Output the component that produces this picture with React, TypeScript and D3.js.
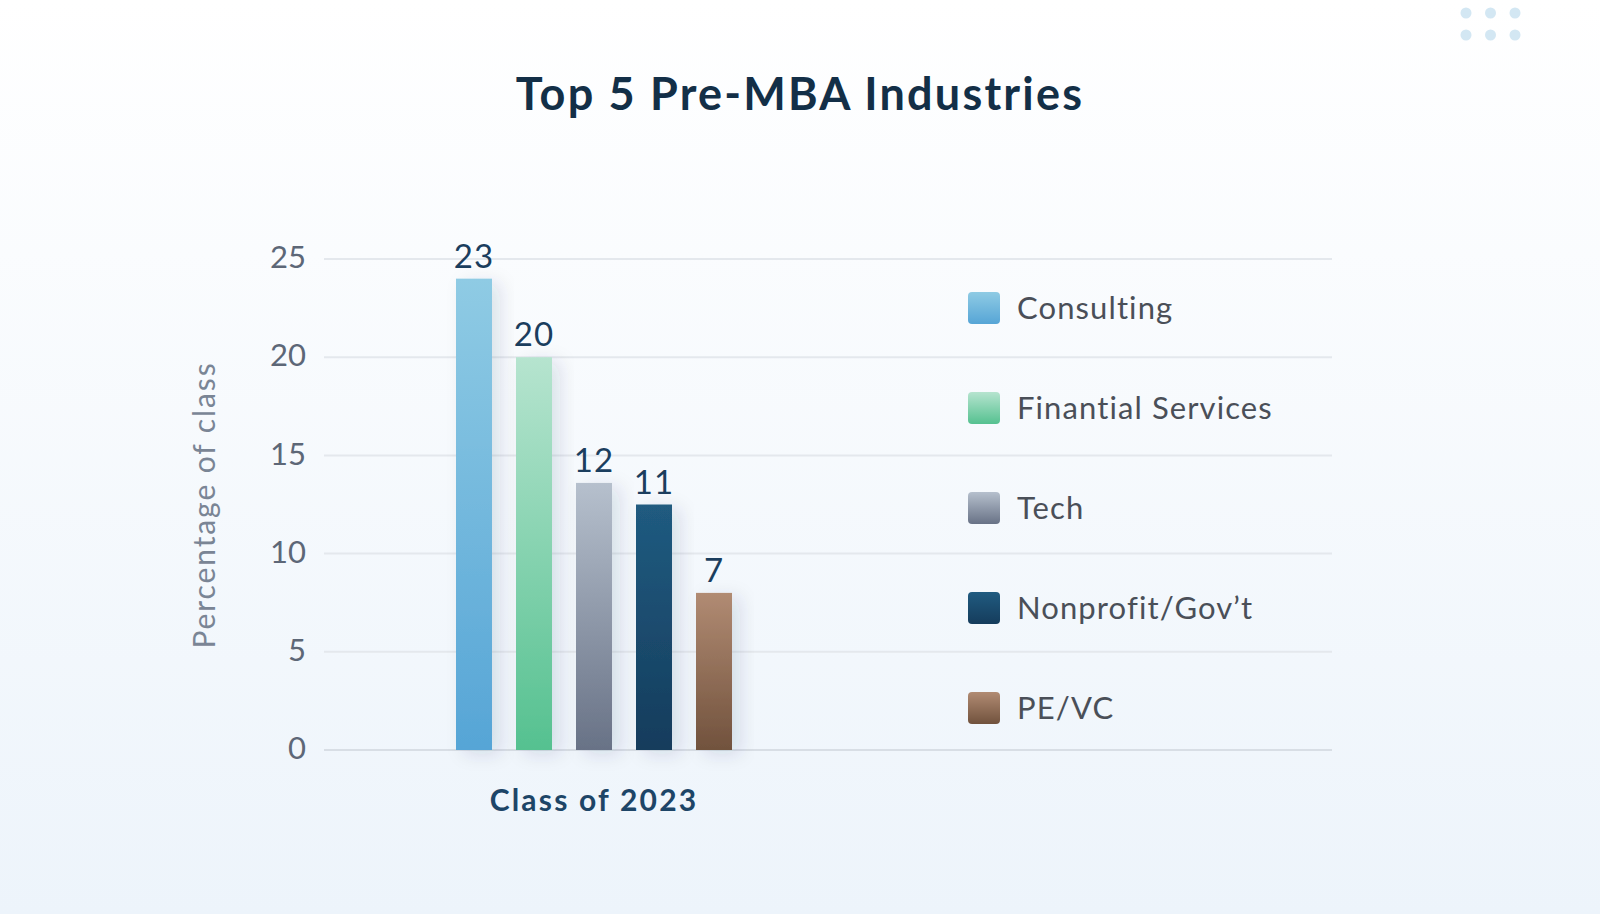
import * as d3 from "d3";

const industries = ["Consulting", "Finantial Services", "Tech", "Nonprofit/Gov’t", "PE/VC"];
const barValues = [24, 20, 13.6, 12.5, 8];
const valueLabels = ["23", "20", "12", "11", "7"];
const groups = ["Class of 2023"];
const yTicks = [0, 5, 10, 15, 20, 25];

// top / bottom gradient stops per industry
const gradTop = ["#8fcbe4", "#b6e4cf", "#b6c0cd", "#205b80", "#b18b73"];
const gradBottom = ["#56a5d6", "#55c190", "#687286", "#153c5c", "#71523d"];

const width = 1600;
const height = 914;
const font = "Lato, 'Open Sans', sans-serif";

export default function App() {
  const plotLeft = 324;
  const plotRight = 1332;
  const y = d3.scaleLinear().domain([0, 25]).range([750, 259]);
  const x0 = d3.scaleBand().domain(groups).range([plotLeft, 864]).paddingInner(0).paddingOuter(0.4);
  const x1 = d3
    .scaleBand()
    .domain(industries)
    .range([0, x0.bandwidth()])
    .paddingInner(0.4)
    .paddingOuter(0.2);
  const legendY = d3.scalePoint().domain(industries).range([308, 708]);

  return (
    <div style={{ position: "absolute", left: 0, top: 0, width, height }}>
      <svg width={width} height={height} viewBox={`0 0 ${width} ${height}`} style={{ display: "block" }}>
        <defs>
          <linearGradient id="bg" x1="0" y1="0" x2="0" y2="1">
            <stop offset="0%" stopColor="#ffffff" />
            <stop offset="100%" stopColor="#edf4fb" />
          </linearGradient>
          {industries.map((name, i) => (
            <linearGradient key={name} id={`g${i}`} x1="0" y1="0" x2="0" y2="1">
              <stop offset="0%" stopColor={gradTop[i]} />
              <stop offset="100%" stopColor={gradBottom[i]} />
            </linearGradient>
          ))}
          <filter id="shadow" x="-60%" y="-20%" width="220%" height="140%">
            <feDropShadow dx="8" dy="4" stdDeviation="9" floodColor="#1c3d5a" floodOpacity="0.12" />
          </filter>
        </defs>

        <rect width={width} height={height} fill="url(#bg)" />

        {/* decorative dots */}
        {[0, 1].map((r) =>
          [0, 1, 2].map((c) => (
            <circle key={`${r}-${c}`} cx={1466 + c * 24.5} cy={13 + r * 22} r={5.5} fill="#d3e7f3" />
          ))
        )}

        <text
          x={800}
          y={110}
          textAnchor="middle"
          fontFamily={font}
          fontWeight={700}
          fontSize={45}
          letterSpacing={2.2}
          fill="#132f47"
        >
          Top 5 Pre-MBA Industries
        </text>

        {/* grid + y axis */}
        {yTicks.map((t) => (
          <g key={t}>
            <line x1={plotLeft} x2={plotRight} y1={y(t)} y2={y(t)} stroke={t === 0 ? "#d8dee5" : "#e4e8ed"} strokeWidth={2} />
            <text
              x={306}
              y={y(t) - 2}
              dy="0.36em"
              textAnchor="end"
              fontFamily={font}
              fontSize={31}
              fill="#5d6777"
            >
              {t}
            </text>
          </g>
        ))}

        <text
          transform={`translate(215, 505) rotate(-90)`}
          textAnchor="middle"
          fontFamily={font}
          fontSize={30}
          letterSpacing={1.9}
          fill="#7a8595"
        >
          Percentage of class
        </text>

        {/* bars */}
        {groups.map((group) => (
          <g key={group} transform={`translate(${x0(group)},0)`}>
            {industries.map((name, i) => (
              <rect
                key={name}
                x={x1(name)}
                y={y(barValues[i])}
                width={x1.bandwidth()}
                height={y(0) - y(barValues[i])}
                fill={`url(#g${i})`}
                filter="url(#shadow)"
              />
            ))}
            {industries.map((name, i) => (
              <text
                key={name}
                x={(x1(name) ?? 0) + x1.bandwidth() / 2}
                y={y(barValues[i]) - 11}
                textAnchor="middle"
                fontFamily={font}
                fontSize={33}
                letterSpacing={1}
                fill="#1b3e5e"
              >
                {valueLabels[i]}
              </text>
            ))}
            <text
              x={x0.bandwidth() / 2}
              y={811}
              textAnchor="middle"
              fontFamily={font}
              fontWeight={700}
              fontSize={30}
              letterSpacing={2.2}
              fill="#1d4567"
            >
              {group}
            </text>
          </g>
        ))}

        {/* legend */}
        {industries.map((name, i) => (
          <g key={name} transform={`translate(968, ${legendY(name)})`}>
            <rect x={0} y={-16} width={32} height={32} rx={4} fill={`url(#g${i})`} />
            <text x={49} y={0} dy="0.36em" fontFamily={font} fontSize={31} letterSpacing={1.1} fill="#4a4f58">
              {name}
            </text>
          </g>
        ))}
      </svg>
    </div>
  );
}
